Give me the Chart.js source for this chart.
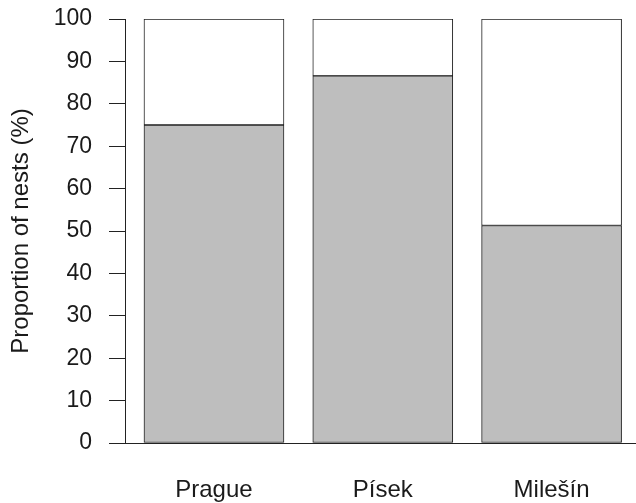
<!DOCTYPE html>
<html>
<head>
<meta charset="utf-8">
<script src="https://cdn.jsdelivr.net/npm/chart.js@4/dist/chart.umd.min.js"></script>
<style>
  html, body { margin: 0; padding: 0; background: #fff; }
  #wrap { width: 636px; height: 503px; }
</style>
</head>
<body>
<div id="wrap"><canvas id="chart" width="636" height="503"></canvas></div>
<script>
const categories = ["Prague", "Písek", "Milešín"];
const grayValues = [75, 86.6, 51.3];
const whiteValues = [25, 13.4, 48.7];
const yTicks = [0, 10, 20, 30, 40, 50, 60, 70, 80, 90, 100];

const lineColor = "#222";
const textColor = "#1a1a1a";
const font = "'Liberation Sans', Arial, sans-serif";

const toPoints = (vals) => vals.map((v, i) => ({ x: i, y: v }));

const ctx = document.getElementById("chart").getContext("2d");
new Chart(ctx, {
  type: "bar",
  data: {
    datasets: [
      {
        label: "gray",
        data: toPoints(grayValues),
        backgroundColor: "#bebebe",
        borderColor: lineColor,
        borderWidth: 1,
        borderSkipped: false,
        barThickness: 140,
        stack: "s",
      },
      {
        label: "white",
        data: toPoints(whiteValues),
        backgroundColor: "#ffffff",
        borderColor: lineColor,
        borderWidth: 1,
        borderSkipped: false,
        barThickness: 140,
        stack: "s",
      },
    ],
  },
  options: {
    responsive: false,
    animation: false,
    layout: { padding: { top: 19, right: 0, left: 0, bottom: 0 } },
    plugins: { legend: { display: false }, tooltip: { enabled: false } },
    scales: {
      x: {
        type: "linear",
        stacked: true,
        offset: false,
        min: -0.527,
        max: 2.5,
        afterBuildTicks: (scale) => {
          scale.ticks = categories.map((c, i) => ({ value: i }));
        },
        afterFit: (scale) => {
          scale.height = 60;
          scale.paddingLeft = 0;
          scale.paddingRight = 0;
        },
        grid: { display: false, offset: false },
        border: { display: true, color: lineColor, width: 1 },
        ticks: {
          padding: 25,
          color: textColor,
          font: { family: font, size: 24 },
          callback: (v) => categories[v],
          maxRotation: 0,
          autoSkip: false,
        },
      },
      y: {
        stacked: true,
        min: 0,
        max: 100,
        afterBuildTicks: (scale) => {
          scale.ticks = yTicks.map((v) => ({ value: v }));
        },
        afterFit: (scale) => {
          scale.width = 125;
          scale.paddingTop = 0;
          scale.paddingBottom = 0;
        },
        grid: {
          display: true,
          drawOnChartArea: false,
          drawTicks: true,
          tickLength: 16,
          color: lineColor,
        },
        border: { display: true, color: lineColor, width: 1 },
        ticks: {
          padding: 17,
          color: textColor,
          font: { family: font, size: 23 },
        },
        title: {
          display: true,
          text: "Proportion of nests (%)",
          color: textColor,
          font: { family: font, size: 24 },
          padding: { top: 7, bottom: 0 },
        },
      },
    },
  },
});
</script>
</body>
</html>
